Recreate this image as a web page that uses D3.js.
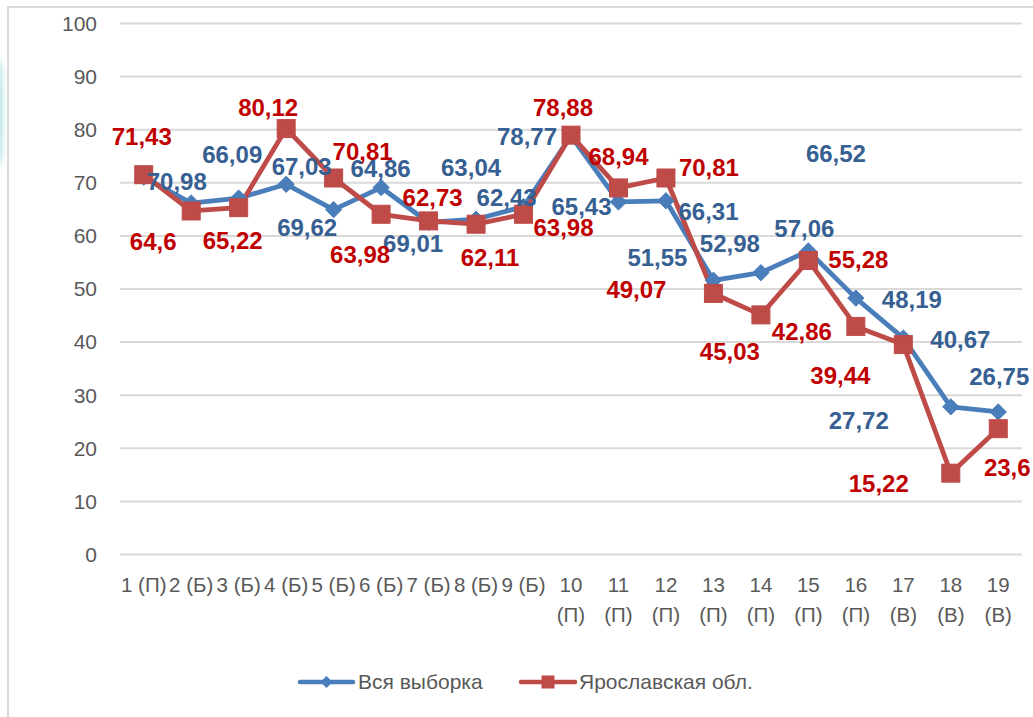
<!DOCTYPE html>
<html>
<head>
<meta charset="utf-8">
<script src="https://cdn.jsdelivr.net/npm/d3@7/dist/d3.min.js"></script>
<style>
  html, body { margin: 0; padding: 0; background: #fff; }
  svg { display: block; }
</style>
</head>
<body>
<svg id="chart" width="1033" height="717"></svg>
<script>
// ---- data ----
const categories = ["1 (П)","2 (Б)","3 (Б)","4 (Б)","5 (Б)","6 (Б)","7 (Б)","8 (Б)","9 (Б)",
  "10 (П)","11 (П)","12 (П)","13 (П)","14 (П)","15 (П)","16 (П)","17 (В)","18 (В)","19 (В)"];
const seriesNames = ["Вся выборка", "Ярославская обл."];
const allSample = [70.98, 66.09, 67.03, 69.62, 64.86, 69.01, 62.43, 63.04, 65.43, 78.77,
  66.31, 66.52, 51.55, 52.98, 57.06, 48.19, 40.67, 27.72, 26.75];
const yaroslavl = [71.43, 64.6, 65.22, 80.12, 70.81, 63.98, 62.73, 62.11, 63.98, 78.88,
  68.94, 70.81, 49.07, 45.03, 55.28, 42.86, 39.44, 15.22, 23.6];
const yTicks = [0, 10, 20, 30, 40, 50, 60, 70, 80, 90, 100];

// ---- layout (label offsets in px from their point, as placed in the original) ----
const blueLabelOffsets = [[33,4],[41,-49],[63,-32],[21,43],[47,-41],[32,56],[78,-25],[-5,-52],[58,0],[-44,1],
  [90,9],[170,-47],[-56,-23],[-31,-29],[-4,-23],[56,1],[57,1],[-92,14],[1,-36]];
const redLabelOffsets = [[-2,-38],[-38,30],[-6,33],[-18,-21],[29,-27],[-21,40],[4,-24],[14,33],[40,13],[-8,-28],
  [0,-32],[43,-11],[-77,-4],[-31,36],[50,-1],[-54,5],[-63,31],[-72,10],[9,39]];

const blue = "#4A7EBB", red = "#BE4B48";
const blueText = "#376092", redText = "#C00000";
const gray = "#595959", grid = "#D9D9D9";
const fontFam = "'Liberation Sans', Arial, sans-serif";
const fmt = v => String(v).replace(".", ",");

const svg = d3.select("#chart");

// decoration at left edge
const defs = svg.append("defs");
defs.append("filter").attr("id", "blur").attr("x", "-200%").attr("width", "500%")
  .append("feGaussianBlur").attr("stdDeviation", 2.5);
svg.append("ellipse").attr("cx", 0).attr("cy", 112).attr("rx", 3).attr("ry", 55)
  .attr("fill", "#6cc9c6").attr("opacity", 0.5).attr("filter", "url(#blur)");

// frame
svg.append("path").attr("d", "M8,717 L8,7 L1033,7")
  .attr("fill", "none").attr("stroke", grid).attr("stroke-width", 2);

const x = d3.scaleBand().domain(categories).range([120, 1022]).padding(0);
const y = d3.scaleLinear().domain([0, 100]).range([554, 23]);
const cx = c => x(c) + x.bandwidth() / 2;

// gridlines + y labels via axis
const yAxis = d3.axisLeft(y).tickValues(yTicks).tickSize(-(1022 - 120)).tickPadding(23).tickFormat(d3.format("d"));
const ya = svg.append("g").attr("transform", "translate(120,0)").call(yAxis);
ya.select(".domain").remove();
ya.selectAll(".tick line").attr("stroke", grid).attr("stroke-width", 2);
ya.selectAll(".tick text").attr("fill", gray).attr("font-family", fontFam).attr("font-size", 21)
  .attr("dy", "0.35em");

// x labels
const xa = svg.append("g");
categories.forEach((c, i) => {
  const parts = c.split(" ");
  const t = xa.append("text").attr("x", cx(c)).attr("text-anchor", "middle")
    .attr("fill", gray).attr("font-family", fontFam).attr("font-size", 20.5);
  if (i < 9) {
    t.append("tspan").attr("x", cx(c)).attr("y", 592).text(c);
  } else {
    t.append("tspan").attr("x", cx(c)).attr("y", 592).text(parts[0]);
    t.append("tspan").attr("x", cx(c)).attr("y", 622).text(parts[1]);
  }
});

// lines
const line = d3.line().x((d, i) => cx(categories[i])).y(d => y(d));
svg.append("path").datum(allSample).attr("d", line).attr("fill", "none")
  .attr("stroke", blue).attr("stroke-width", 4.8).attr("stroke-linejoin", "round");
svg.append("path").datum(yaroslavl).attr("d", line).attr("fill", "none")
  .attr("stroke", red).attr("stroke-width", 4.8).attr("stroke-linejoin", "round");

// markers
const diamond = d3.symbol().type(d3.symbolDiamond2).size(170);
svg.append("g").selectAll("path").data(allSample).join("path")
  .attr("d", diamond).attr("fill", blue).attr("stroke", blue).attr("stroke-width", 1)
  .attr("transform", (d, i) => `translate(${cx(categories[i])},${y(d)})`);
const sq = 18;
svg.append("g").selectAll("rect").data(yaroslavl).join("rect")
  .attr("x", (d, i) => cx(categories[i]) - sq / 2).attr("y", d => y(d) - sq / 2)
  .attr("width", sq).attr("height", sq).attr("fill", red).attr("stroke", red).attr("stroke-width", 1);

// data labels
svg.append("g").selectAll("text").data(allSample).join("text")
  .attr("x", (d, i) => cx(categories[i]) + blueLabelOffsets[i][0])
  .attr("y", (d, i) => y(d) + blueLabelOffsets[i][1])
  .attr("dy", "0.36em").attr("text-anchor", "middle")
  .attr("font-family", fontFam).attr("font-weight", "bold").attr("font-size", 24)
  .attr("fill", blueText).text(fmt);
svg.append("g").selectAll("text").data(yaroslavl).join("text")
  .attr("x", (d, i) => cx(categories[i]) + redLabelOffsets[i][0])
  .attr("y", (d, i) => y(d) + redLabelOffsets[i][1])
  .attr("dy", "0.36em").attr("text-anchor", "middle")
  .attr("font-family", fontFam).attr("font-weight", "bold").attr("font-size", 24)
  .attr("fill", redText).text(fmt);

// legend
const lg = svg.append("g");
const ly = 682;
[[300, 353, blue, "diamond", seriesNames[0], 358], [521, 575, red, "square", seriesNames[1], 579]].forEach(([x1, x2, col, m, name, tx]) => {
  lg.append("line").attr("x1", x1).attr("x2", x2).attr("y1", ly).attr("y2", ly)
    .attr("stroke", col).attr("stroke-width", 4.5).attr("stroke-linecap", "round");
  const mx = (x1 + x2) / 2;
  if (m === "diamond") {
    lg.append("path").attr("d", d3.symbol().type(d3.symbolDiamond2).size(95)())
      .attr("transform", `translate(${mx},${ly})`).attr("fill", col);
  } else {
    lg.append("rect").attr("x", mx - 6.5).attr("y", ly - 6.5).attr("width", 13).attr("height", 13).attr("fill", col);
  }
  lg.append("text").attr("x", tx).attr("y", ly).attr("dy", "0.35em")
    .attr("font-family", fontFam).attr("font-size", 21).attr("fill", gray).text(name);
});
</script>
</body>
</html>
